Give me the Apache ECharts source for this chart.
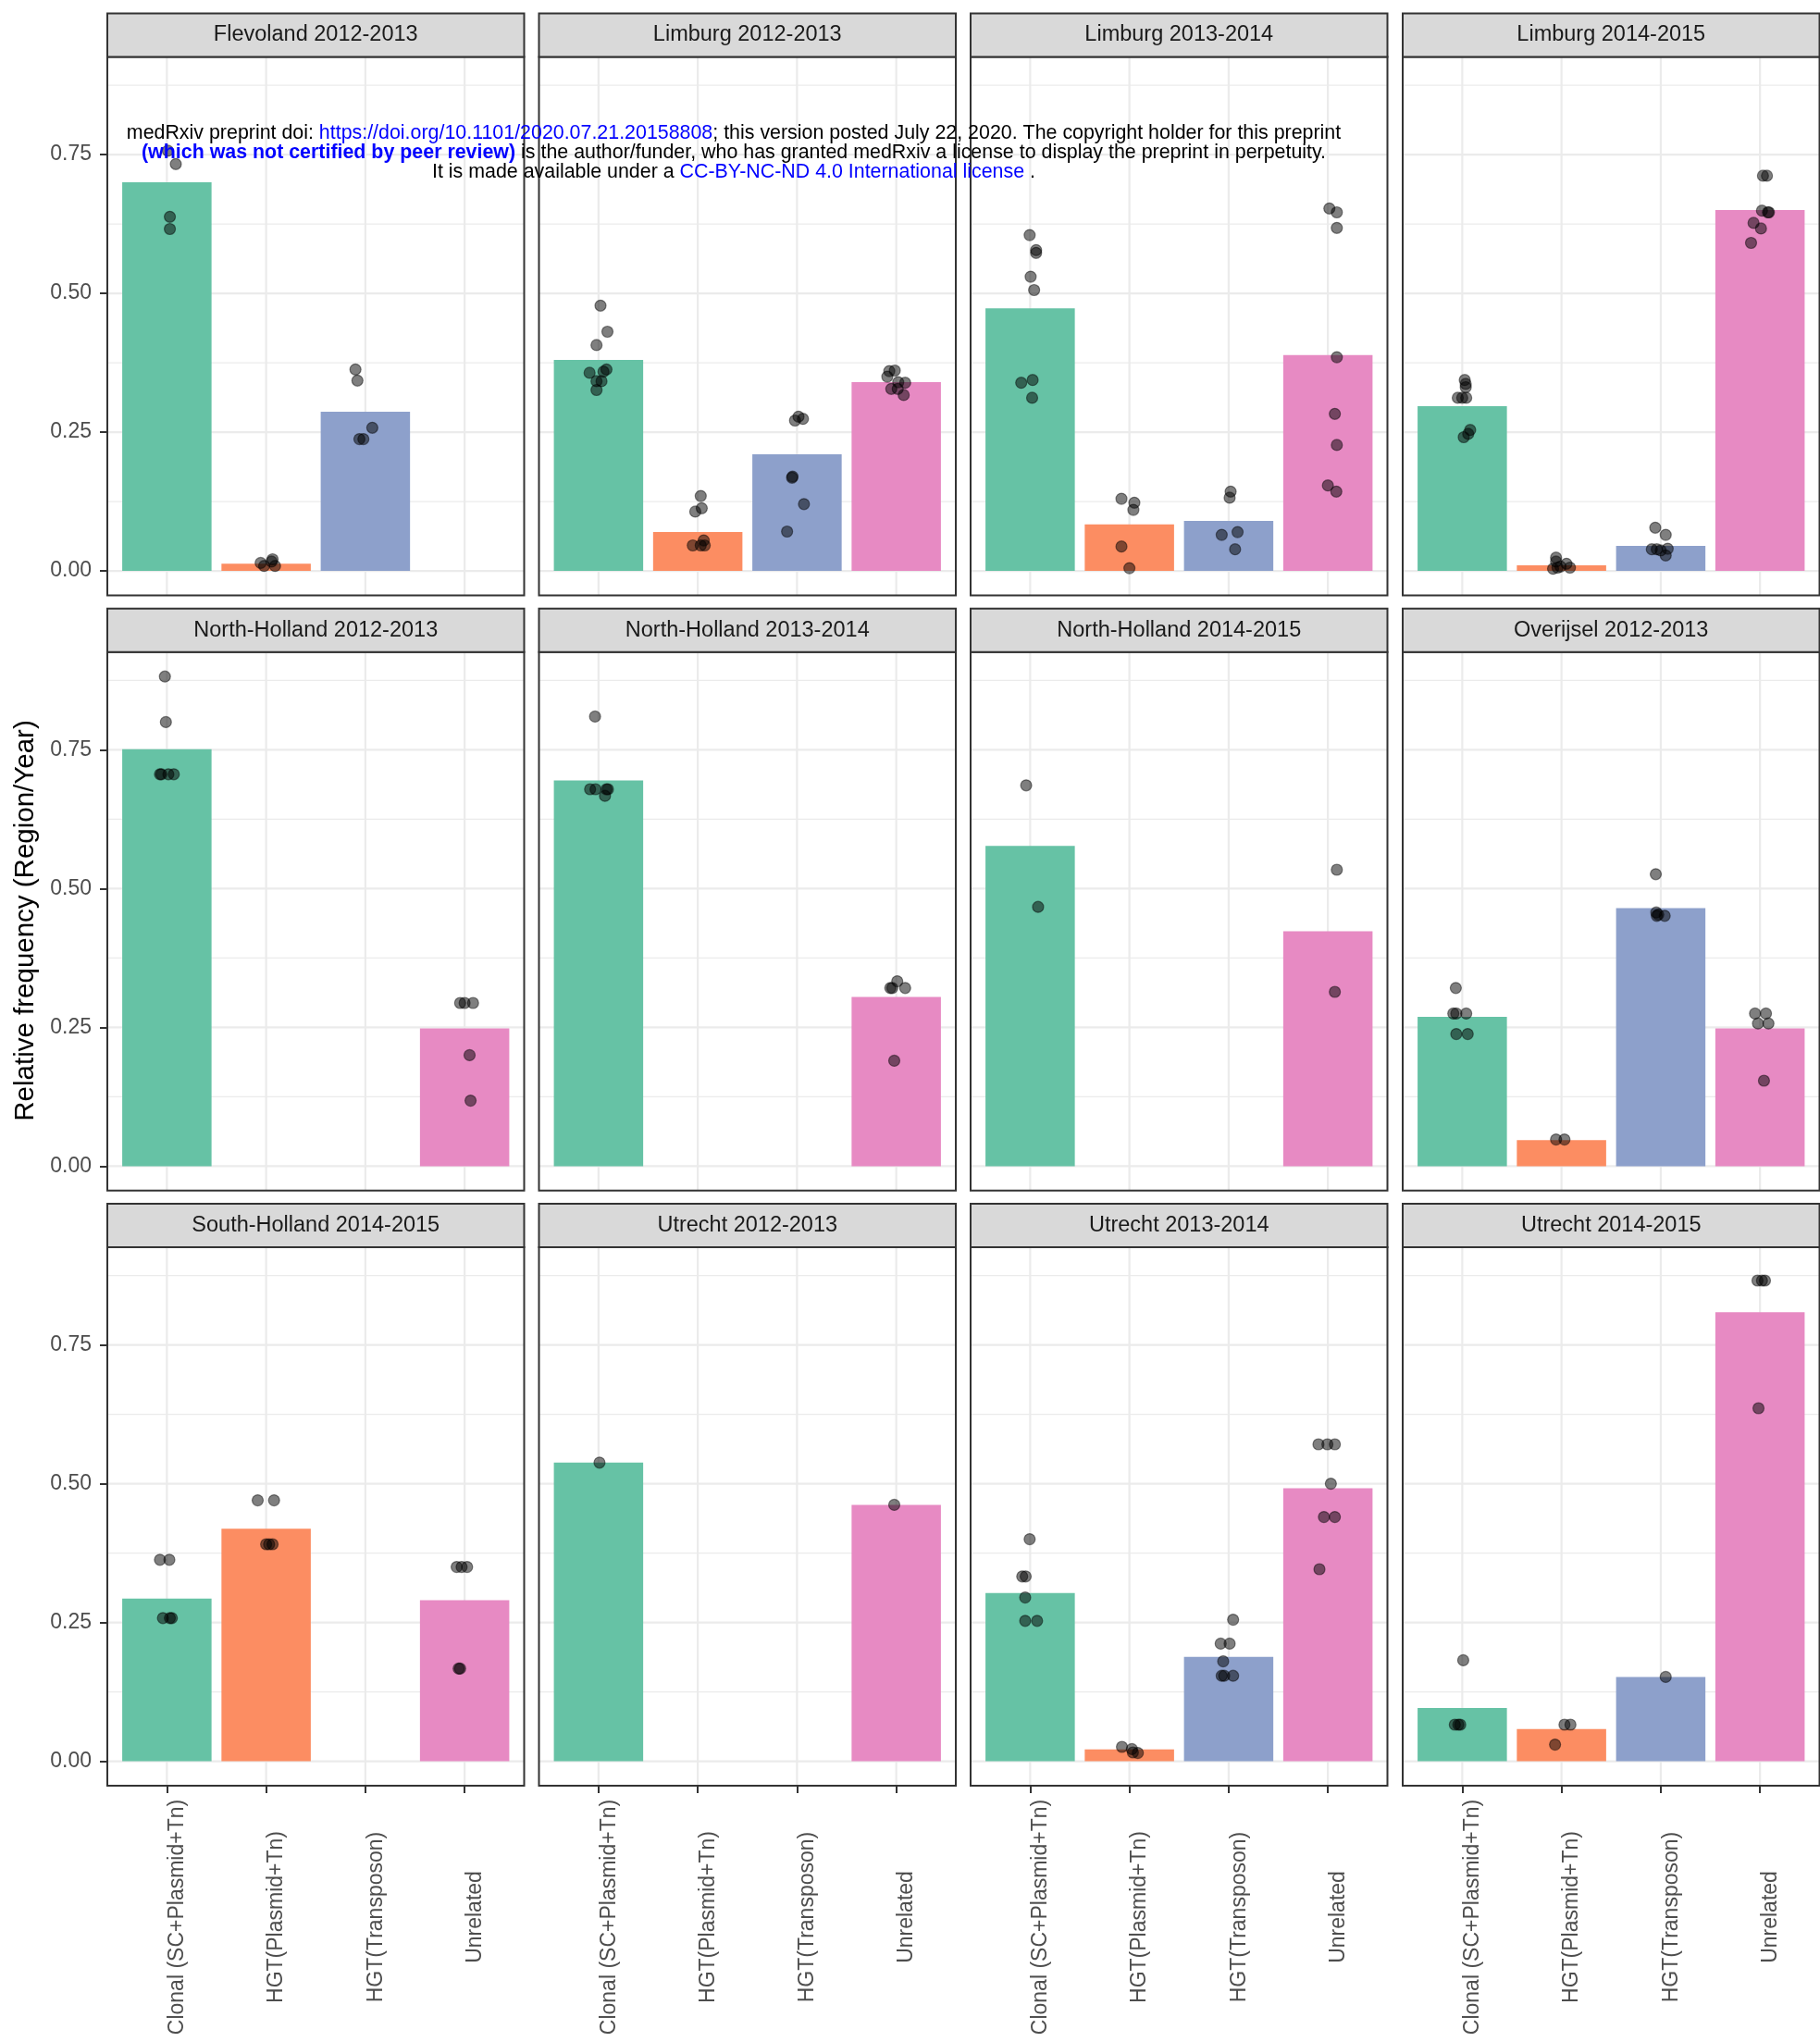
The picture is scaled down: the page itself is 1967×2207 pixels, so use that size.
<!DOCTYPE html>
<html>
<head>
<meta charset="utf-8">
<title>Relative frequency of transmission type by region and year</title>
<script src="https://cdn.jsdelivr.net/npm/echarts@6/dist/echarts.min.js"></script>
<style>
  html, body { margin: 0; padding: 0; background: #ffffff; }
  #chart { width: 1967px; height: 2207px; }
</style>
</head>
<body>
<div id="chart"></div>
<script>
// ---- Data -----------------------------------------------------------------
const categories = ['Clonal (SC+Plasmid+Tn)', 'HGT(Plasmid+Tn)', 'HGT(Transposon)', 'Unrelated'];
const panelTitles = [
  'Flevoland 2012-2013', 'Limburg 2012-2013', 'Limburg 2013-2014', 'Limburg 2014-2015',
  'North-Holland 2012-2013', 'North-Holland 2013-2014', 'North-Holland 2014-2015', 'Overijsel 2012-2013',
  'South-Holland 2014-2015', 'Utrecht 2012-2013', 'Utrecht 2013-2014', 'Utrecht 2014-2015'
];
const yMajorBreaks = [0, 0.25, 0.5, 0.75];
const yMinorBreaks = [0.125, 0.375, 0.625, 0.875];
const xBreaks = [0, 1, 2, 3];

// Bar heights (overall relative frequency), one value per category; null = absent
const barsFlevoland1213    = [0.700, 0.013, 0.287, null];
const barsLimburg1213      = [0.380, 0.070, 0.210, 0.340];
const barsLimburg1314      = [0.473, 0.084, 0.090, 0.389];
const barsLimburg1415      = [0.297, 0.010, 0.045, 0.650];
const barsNorthHolland1213 = [0.751, null, null, 0.248];
const barsNorthHolland1314 = [0.695, null, null, 0.305];
const barsNorthHolland1415 = [0.577, null, null, 0.423];
const barsOverijsel1213    = [0.269, 0.047, 0.465, 0.248];
const barsSouthHolland1415 = [0.293, 0.419, null, 0.290];
const barsUtrecht1213      = [0.538, null, null, 0.462];
const barsUtrecht1314      = [0.303, 0.0215, 0.188, 0.492];
const barsUtrecht1415      = [0.096, 0.058, 0.152, 0.809];

// Individual observations: [category index, horizontal jitter, value]
const ptsFlevoland1213 = [
  [0, 0.01, 0.757], [0, 0.09, 0.733], [0, 0.03, 0.638], [0, 0.03, 0.616],
  [1, -0.055, 0.0145], [1, -0.02, 0.009], [1, 0.065, 0.021], [1, 0.09, 0.009], [1, 0.055, 0.017],
  [2, -0.10, 0.363], [2, -0.08, 0.343], [2, 0.07, 0.258], [2, -0.06, 0.2375], [2, -0.02, 0.2375]
];
const ptsLimburg1213 = [
  [0, 0.02, 0.478], [0, 0.09, 0.431], [0, -0.02, 0.407], [0, 0.08, 0.363], [0, -0.09, 0.357],
  [0, 0.05, 0.359], [0, -0.02, 0.342], [0, 0.03, 0.342], [0, -0.02, 0.326],
  [1, 0.03, 0.135], [1, 0.04, 0.113], [1, -0.025, 0.107], [1, -0.05, 0.046], [1, 0.03, 0.046],
  [1, 0.06, 0.055], [1, 0.07, 0.046],
  [2, -0.02, 0.271], [2, 0.015, 0.278], [2, 0.06, 0.274], [2, -0.05, 0.168], [2, -0.045, 0.170],
  [2, 0.07, 0.1205], [2, -0.10, 0.071],
  [3, -0.07, 0.360], [3, -0.015, 0.361], [3, -0.09, 0.350], [3, 0.02, 0.340], [3, 0.09, 0.339],
  [3, -0.05, 0.328], [3, 0.015, 0.328], [3, 0.075, 0.317]
];
const ptsLimburg1314 = [
  [0, -0.005, 0.605], [0, 0.06, 0.578], [0, 0.06, 0.573], [0, 0.005, 0.530], [0, 0.04, 0.506],
  [0, -0.09, 0.339], [0, 0.025, 0.344], [0, 0.02, 0.312],
  [1, -0.08, 0.130], [1, 0.05, 0.123], [1, 0.04, 0.110], [1, -0.08, 0.044], [1, 0.0, 0.005],
  [2, 0.02, 0.143], [2, 0.01, 0.132], [2, -0.07, 0.065], [2, 0.09, 0.070], [2, 0.065, 0.039],
  [3, 0.015, 0.653], [3, 0.09, 0.646], [3, 0.09, 0.618], [3, 0.09, 0.385], [3, 0.07, 0.283],
  [3, 0.09, 0.227], [3, 0.0, 0.154], [3, 0.085, 0.143]
];
const ptsLimburg1415 = [
  [0, 0.025, 0.344], [0, 0.035, 0.337], [0, 0.035, 0.331], [0, -0.045, 0.312], [0, 0.0, 0.312],
  [0, 0.04, 0.312], [0, 0.08, 0.254], [0, 0.015, 0.241], [0, 0.06, 0.247],
  [1, -0.055, 0.024], [1, -0.055, 0.017], [1, -0.085, 0.004], [1, -0.04, 0.006], [1, 0.05, 0.013],
  [1, 0.085, 0.006], [1, -0.01, 0.008],
  [2, -0.055, 0.078], [2, 0.05, 0.065], [2, -0.09, 0.039], [2, -0.04, 0.039], [2, 0.0, 0.037],
  [2, 0.07, 0.040], [2, 0.05, 0.028],
  [3, 0.03, 0.712], [3, 0.07, 0.712], [3, 0.02, 0.649], [3, 0.08, 0.646], [3, 0.09, 0.646],
  [3, -0.065, 0.627], [3, 0.01, 0.617], [3, -0.09, 0.591]
];
const ptsNorthHolland1213 = [
  [0, -0.02, 0.882], [0, -0.01, 0.800], [0, -0.07, 0.706], [0, -0.055, 0.706], [0, 0.015, 0.706],
  [0, 0.07, 0.706],
  [3, -0.045, 0.294], [3, 0.0, 0.294], [3, 0.085, 0.294], [3, 0.05, 0.200], [3, 0.06, 0.118]
];
const ptsNorthHolland1314 = [
  [0, -0.035, 0.810], [0, -0.085, 0.679], [0, -0.03, 0.679], [0, 0.08, 0.679], [0, 0.095, 0.679],
  [0, 0.065, 0.667],
  [3, 0.01, 0.333], [3, -0.06, 0.321], [3, -0.04, 0.321], [3, 0.09, 0.321], [3, -0.02, 0.190]
];
const ptsNorthHolland1415 = [
  [0, -0.04, 0.686], [0, 0.08, 0.467],
  [3, 0.09, 0.534], [3, 0.07, 0.314]
];
const ptsOverijsel1213 = [
  [0, -0.065, 0.321], [0, -0.09, 0.275], [0, -0.06, 0.275], [0, 0.04, 0.275], [0, -0.06, 0.238],
  [0, 0.055, 0.238],
  [1, -0.055, 0.048], [1, 0.03, 0.048],
  [2, -0.05, 0.526], [2, -0.045, 0.457], [2, -0.025, 0.453], [2, 0.04, 0.451], [2, -0.04, 0.451],
  [3, -0.05, 0.275], [3, 0.06, 0.275], [3, -0.02, 0.257], [3, 0.085, 0.257], [3, 0.04, 0.154]
];
const ptsSouthHolland1415 = [
  [0, -0.07, 0.363], [0, 0.025, 0.363], [0, -0.04, 0.258], [0, 0.03, 0.258], [0, 0.05, 0.258],
  [1, -0.085, 0.470], [1, 0.08, 0.470], [1, 0.0, 0.391], [1, 0.03, 0.391], [1, 0.065, 0.391],
  [3, -0.08, 0.350], [3, 0.025, 0.350], [3, -0.03, 0.350], [3, -0.06, 0.167], [3, -0.045, 0.167]
];
const ptsUtrecht1213 = [
  [0, 0.01, 0.538],
  [3, -0.02, 0.462]
];
const ptsUtrecht1314 = [
  [0, -0.005, 0.400], [0, -0.08, 0.333], [0, -0.045, 0.333], [0, -0.05, 0.295], [0, -0.05, 0.253],
  [0, 0.07, 0.253],
  [1, -0.075, 0.026], [1, 0.025, 0.022], [1, 0.035, 0.016], [1, 0.085, 0.015],
  [2, 0.045, 0.255], [2, -0.08, 0.212], [2, 0.01, 0.212], [2, -0.055, 0.180], [2, -0.07, 0.154],
  [2, 0.045, 0.154], [2, -0.045, 0.154],
  [3, -0.095, 0.571], [3, -0.005, 0.571], [3, 0.07, 0.571], [3, 0.03, 0.500], [3, -0.04, 0.440],
  [3, 0.07, 0.440], [3, -0.085, 0.346]
];
const ptsUtrecht1415 = [
  [0, 0.01, 0.182], [0, -0.075, 0.066], [0, -0.04, 0.066], [0, -0.02, 0.066],
  [1, 0.03, 0.066], [1, 0.09, 0.066], [1, -0.065, 0.030],
  [2, 0.05, 0.152],
  [3, -0.025, 0.866], [3, 0.02, 0.866], [3, 0.05, 0.866], [3, -0.015, 0.636]
];

const panelBars = [
  barsFlevoland1213, barsLimburg1213, barsLimburg1314, barsLimburg1415,
  barsNorthHolland1213, barsNorthHolland1314, barsNorthHolland1415, barsOverijsel1213,
  barsSouthHolland1415, barsUtrecht1213, barsUtrecht1314, barsUtrecht1415
];
const panelPoints = [
  ptsFlevoland1213, ptsLimburg1213, ptsLimburg1314, ptsLimburg1415,
  ptsNorthHolland1213, ptsNorthHolland1314, ptsNorthHolland1415, ptsOverijsel1213,
  ptsSouthHolland1415, ptsUtrecht1213, ptsUtrecht1314, ptsUtrecht1415
];

// ---- Styling & layout -----------------------------------------------------
const FONT = '"Liberation Sans", Arial, Helvetica, sans-serif';
const barColors = ['#66C2A5', '#FC8D62', '#8DA0CB', '#E78AC3'];
const xRange = [-0.6, 3.6];      // 4 categories with 0.6 padding on each side
const yRange = [-0.044, 0.926];  // data range expanded by 5%
const colLeft = [116, 582.5, 1049, 1516];
const plotTop = [61.5, 704.8, 1348];
const plotW = 450.5, plotH = 582, stripH = 47;

function renderGridLine(params, api) {
  const v = api.value(0), kind = api.value(1);
  let p1, p2;
  if (kind === 2) {
    p1 = api.coord([v, yRange[0]]); p2 = api.coord([v, yRange[1]]);
  } else {
    p1 = api.coord([xRange[0], v]); p2 = api.coord([xRange[1], v]);
  }
  return {
    type: 'line',
    shape: { x1: p1[0], y1: p1[1], x2: p2[0], y2: p2[1] },
    style: { stroke: '#EBEBEB', lineWidth: kind === 1 ? 1.2 : 2.2 }
  };
}

function renderBar(params, api) {
  const cat = api.value(0), h = api.value(1);
  const a = api.coord([cat - 0.45, 0]);
  const b = api.coord([cat + 0.45, h]);
  return {
    type: 'rect',
    shape: { x: a[0], y: b[1], width: b[0] - a[0], height: a[1] - b[1] },
    style: { fill: barColors[cat] }
  };
}

const gridLineData = []
  .concat(yMajorBreaks.map(v => [v, 0]))
  .concat(yMinorBreaks.map(v => [v, 1]))
  .concat(xBreaks.map(v => [v, 2]));

const grids = [], xAxes = [], yAxes = [], series = [], graphics = [];

panelTitles.forEach((title, i) => {
  const r = Math.floor(i / 4), c = i % 4;
  const bottomRow = r === 2, leftCol = c === 0;

  grids.push({ left: colLeft[c], top: plotTop[r], width: plotW, height: plotH, containLabel: false });

  xAxes.push({
    type: 'value', gridIndex: i, min: xRange[0], max: xRange[1], position: 'bottom',
    axisLine: { show: false, onZero: false }, splitLine: { show: false },
    axisTick: { show: bottomRow, customValues: xBreaks, length: 8, lineStyle: { color: '#333333', width: 2 } },
    axisLabel: {
      show: bottomRow, customValues: xBreaks, rotate: 90, margin: 142,
      align: 'center', verticalAlign: 'top',
      formatter: v => categories[Math.round(v)],
      fontSize: 23, color: '#4D4D4D', fontFamily: FONT
    }
  });

  yAxes.push({
    type: 'value', gridIndex: i, min: yRange[0], max: yRange[1], position: 'left',
    axisLine: { show: false, onZero: false }, splitLine: { show: false },
    axisTick: { show: leftCol, customValues: yMajorBreaks, length: 8, lineStyle: { color: '#333333', width: 2 } },
    axisLabel: {
      show: leftCol, customValues: yMajorBreaks, margin: 17,
      formatter: v => v.toFixed(2),
      fontSize: 23, color: '#4D4D4D', fontFamily: FONT
    }
  });

  series.push({
    type: 'custom', name: 'grid', xAxisIndex: i, yAxisIndex: i, z: 1, silent: true,
    data: gridLineData, renderItem: renderGridLine
  });

  series.push({
    type: 'custom', name: title, xAxisIndex: i, yAxisIndex: i, z: 2, silent: true,
    data: panelBars[i].map((v, k) => [k, v]).filter(d => d[1] !== null),
    renderItem: renderBar
  });

  series.push({
    type: 'scatter', name: title + ' samples', xAxisIndex: i, yAxisIndex: i, z: 3, silent: true,
    symbol: 'circle', symbolSize: 12,
    itemStyle: { color: 'rgba(0,0,0,0.5)', borderColor: 'rgba(0,0,0,0.45)', borderWidth: 1.2, opacity: 1 },
    data: panelPoints[i].map(p => [p[0] + p[1], p[2]])
  });

  // panel border
  graphics.push({
    type: 'rect', z: 100,
    shape: { x: colLeft[c], y: plotTop[r], width: plotW, height: plotH },
    style: { fill: 'none', stroke: '#333333', lineWidth: 2 }
  });
  // facet strip
  graphics.push({
    type: 'rect', z: 100,
    shape: { x: colLeft[c], y: plotTop[r] - stripH, width: plotW, height: stripH },
    style: { fill: '#D9D9D9', stroke: '#333333', lineWidth: 2 }
  });
  graphics.push({
    type: 'text', z: 101,
    x: colLeft[c] + plotW / 2, y: plotTop[r] - stripH / 2,
    style: {
      text: title, fill: '#1A1A1A', font: '23.5px ' + FONT,
      align: 'center', verticalAlign: 'middle', textAlign: 'center', textVerticalAlign: 'middle'
    }
  });
});

// y-axis title
graphics.push({
  type: 'text', z: 101, x: 28, y: 995, rotation: Math.PI / 2,
  style: {
    text: 'Relative frequency (Region/Year)', fill: '#000000', font: '29.5px ' + FONT,
    align: 'center', verticalAlign: 'middle', textAlign: 'center', textVerticalAlign: 'middle'
  }
});

// preprint notice
const NOTICE_SIZE = 21.4;
const noticeRich = {
  n: { fill: '#000000', fontSize: NOTICE_SIZE, fontFamily: FONT },
  l: { fill: '#0000FF', fontSize: NOTICE_SIZE, fontFamily: FONT },
  lb: { fill: '#0000FF', fontSize: NOTICE_SIZE, fontFamily: FONT, fontWeight: 'bold' }
};
const noticeLines = [
  '{n|medRxiv preprint doi: }{l|https://doi.org/10.1101/2020.07.21.20158808}{n|; this version posted July 22, 2020. The copyright holder for this preprint}',
  '{lb|(which was not certified by peer review)}{n| is the author/funder, who has granted medRxiv a license to display the preprint in perpetuity.}',
  '{n|It is made available under a }{l|CC-BY-NC-ND 4.0 International license}{n| .}'
];
const noticeY = [144, 165, 186.5];
noticeLines.forEach((t, k) => {
  graphics.push({
    type: 'text', z: 120, x: 793, y: noticeY[k],
    style: {
      text: t, rich: noticeRich, font: NOTICE_SIZE + 'px ' + FONT,
      align: 'center', verticalAlign: 'middle', textAlign: 'center', textVerticalAlign: 'middle'
    }
  });
});

const chart = echarts.init(document.getElementById('chart'), null, { renderer: 'canvas' });
chart.setOption({
  animation: false,
  backgroundColor: '#ffffff',
  textStyle: { fontFamily: FONT },
  grid: grids,
  xAxis: xAxes,
  yAxis: yAxes,
  series: series,
  graphic: { elements: graphics }
});
</script>
</body>
</html>
